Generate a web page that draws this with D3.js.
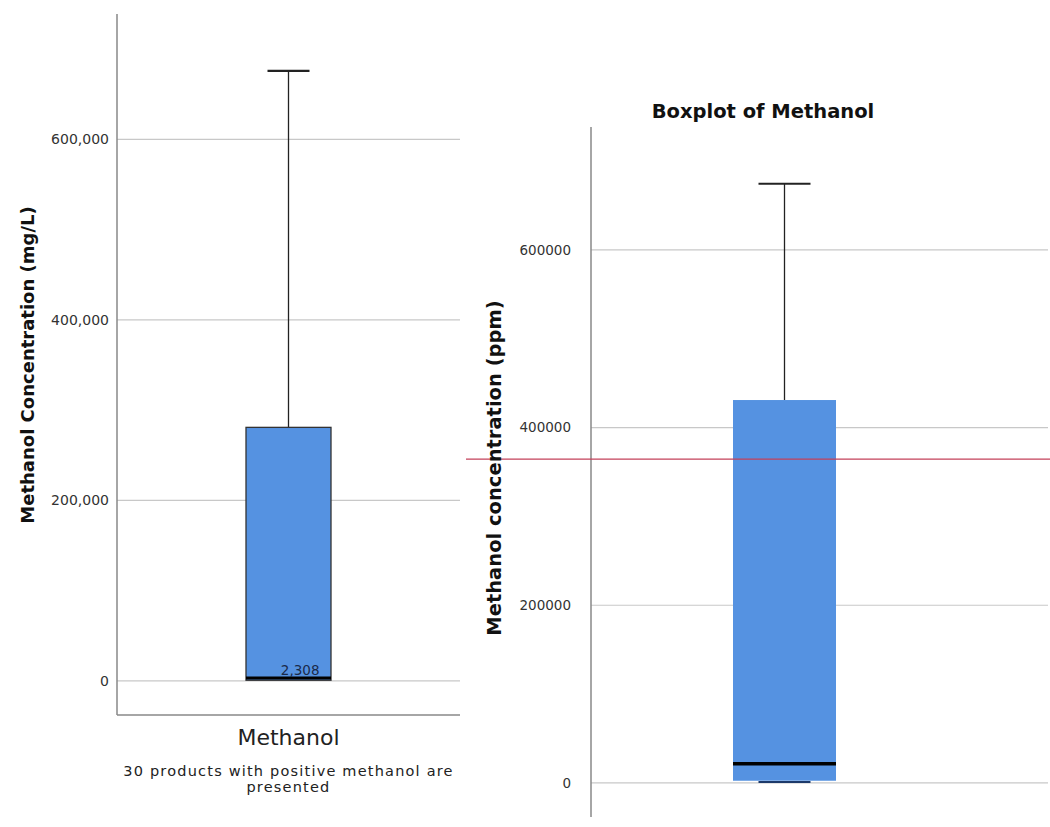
<!DOCTYPE html>
<html>
<head>
<meta charset="utf-8">
<script src="https://cdn.jsdelivr.net/npm/d3@7"></script>
<style>
  body { margin: 0; background: #fff; }
  svg { display: block; }
  text { font-family: "DejaVu Sans", sans-serif; }
</style>
</head>
<body>
<div id="chart"></div>
<script>
// left panel (SPSS style): [min, q1, median, q3, max]
const leftCategory = ["Methanol"];
const leftBox = [300, 800, 2308, 281000, 676000];
const leftTicks = [0, 200000, 400000, 600000];

// right panel: [min, q1, median, q3, max]
const rightCategory = ["Methanol"];
const rightBox = [1000, 2500, 21500, 431000, 674500];
const rightTicks = [0, 200000, 400000, 600000];
const refLine = [364500];

const width = 1050, height = 827;

const svg = d3.select("#chart")
  .append("svg")
  .attr("width", width)
  .attr("height", height);

const fillBlue = "#5592e1";

// ---------- left chart ----------
const yL = d3.scaleLinear().domain([-37700, 739000]).range([715, 14]);
const xL = d3.scalePoint().domain(leftCategory).range([117, 460]).padding(0.5);
const boxWL = 85;

const left = svg.append("g");

left.append("g")
  .attr("transform", "translate(117,0)")
  .call(d3.axisLeft(yL).tickValues(leftTicks).tickFormat(d3.format(",")).tickSize(0).tickPadding(8))
  .call(g => g.select(".domain").remove())
  .call(g => g.selectAll("text").attr("font-size", 14).attr("fill", "#333"));

left.append("g")
  .selectAll("line")
  .data(leftTicks)
  .join("line")
  .attr("x1", 117).attr("x2", 460)
  .attr("y1", d => yL(d)).attr("y2", d => yL(d))
  .attr("stroke", "#c8c8c8").attr("stroke-width", 1.2);

// axes lines
left.append("line").attr("x1", 117).attr("x2", 117).attr("y1", 14).attr("y2", 715)
  .attr("stroke", "#888").attr("stroke-width", 1.5);
left.append("line").attr("x1", 117).attr("x2", 460).attr("y1", 715).attr("y2", 715)
  .attr("stroke", "#888").attr("stroke-width", 1.5);

const cxL = xL("Methanol");
// whisker
left.append("line").attr("x1", cxL).attr("x2", cxL)
  .attr("y1", yL(leftBox[4])).attr("y2", yL(leftBox[3]))
  .attr("stroke", "#222").attr("stroke-width", 1.3);
left.append("line").attr("x1", cxL - 21).attr("x2", cxL + 21)
  .attr("y1", yL(leftBox[4])).attr("y2", yL(leftBox[4]))
  .attr("stroke", "#222").attr("stroke-width", 2.2);
// box
left.append("rect")
  .attr("x", cxL - boxWL / 2).attr("width", boxWL)
  .attr("y", yL(leftBox[3])).attr("height", yL(leftBox[1]) - yL(leftBox[3]))
  .attr("fill", fillBlue).attr("stroke", "#333").attr("stroke-width", 1.3);
// median
left.append("line").attr("x1", cxL - boxWL / 2).attr("x2", cxL + boxWL / 2)
  .attr("y1", yL(leftBox[2]) - 1).attr("y2", yL(leftBox[2]) - 1)
  .attr("stroke", "#000").attr("stroke-width", 3);
left.append("text")
  .attr("x", cxL + 31).attr("y", yL(leftBox[2]) - 4)
  .attr("text-anchor", "end").attr("font-size", 13.5).attr("fill", "#1a2a4a")
  .text(d3.format(",")(leftBox[2]));

// labels
left.append("text")
  .attr("x", cxL).attr("y", 745)
  .attr("text-anchor", "middle").attr("font-size", 22).attr("fill", "#222")
  .text("Methanol");
left.append("text")
  .attr("x", cxL).attr("y", 776)
  .attr("text-anchor", "middle").attr("font-size", 14.5).attr("letter-spacing", 1.2).attr("fill", "#222")
  .text("30 products with positive methanol are");
left.append("text")
  .attr("x", cxL).attr("y", 792)
  .attr("text-anchor", "middle").attr("font-size", 14.5).attr("letter-spacing", 1.2).attr("fill", "#222")
  .text("presented");
left.append("text")
  .attr("transform", "translate(34,365) rotate(-90)")
  .attr("text-anchor", "middle").attr("font-size", 18).attr("font-weight", "bold").attr("fill", "#111")
  .text("Methanol Concentration (mg/L)");

// ---------- right chart ----------
const yR = d3.scaleLinear().domain([-38300, 738300]).range([817, 127]);
const xR = d3.scalePoint().domain(rightCategory).range([591, 978]).padding(0.5);
const boxWR = 103;

const right = svg.append("g");

right.append("g")
  .attr("transform", "translate(591,0)")
  .call(d3.axisLeft(yR).tickValues(rightTicks).tickFormat(d3.format("d")).tickSize(0).tickPadding(20))
  .call(g => g.select(".domain").remove())
  .call(g => g.selectAll("text").attr("font-size", 13.5).attr("fill", "#333"));

right.append("g")
  .selectAll("line")
  .data(rightTicks)
  .join("line")
  .attr("x1", 591).attr("x2", 1048)
  .attr("y1", d => yR(d)).attr("y2", d => yR(d))
  .attr("stroke", "#c8c8c8").attr("stroke-width", 1.2);

right.append("line").attr("x1", 591).attr("x2", 591).attr("y1", 127).attr("y2", 817)
  .attr("stroke", "#888").attr("stroke-width", 1.5);

const cxR = xR("Methanol");
right.append("line").attr("x1", cxR).attr("x2", cxR)
  .attr("y1", yR(rightBox[4])).attr("y2", yR(rightBox[3]))
  .attr("stroke", "#222").attr("stroke-width", 1.3);
right.append("line").attr("x1", cxR - 26).attr("x2", cxR + 26)
  .attr("y1", yR(rightBox[4])).attr("y2", yR(rightBox[4]))
  .attr("stroke", "#222").attr("stroke-width", 2);
right.append("rect")
  .attr("x", cxR - boxWR / 2).attr("width", boxWR)
  .attr("y", yR(rightBox[3])).attr("height", yR(rightBox[1]) - yR(rightBox[3]))
  .attr("fill", fillBlue);
right.append("line").attr("x1", cxR - boxWR / 2).attr("x2", cxR + boxWR / 2)
  .attr("y1", yR(rightBox[2])).attr("y2", yR(rightBox[2]))
  .attr("stroke", "#000").attr("stroke-width", 3.5);
right.append("line").attr("x1", cxR - 26).attr("x2", cxR + 26)
  .attr("y1", yR(rightBox[0])).attr("y2", yR(rightBox[0]))
  .attr("stroke", "#1d3a6a").attr("stroke-width", 2);

// reference line
right.selectAll(".ref")
  .data(refLine)
  .join("line")
  .attr("x1", 466).attr("x2", 1050)
  .attr("y1", d => yR(d)).attr("y2", d => yR(d))
  .attr("stroke", "#c3405a").attr("stroke-width", 1.2);

right.append("text")
  .attr("x", 763).attr("y", 118)
  .attr("text-anchor", "middle").attr("font-size", 19.5).attr("font-weight", "bold").attr("fill", "#111")
  .text("Boxplot of Methanol");
right.append("text")
  .attr("transform", "translate(501,468) rotate(-90)")
  .attr("text-anchor", "middle").attr("font-size", 19.5).attr("font-weight", "bold").attr("fill", "#111")
  .text("Methanol concentration (ppm)");
</script>
</body>
</html>
